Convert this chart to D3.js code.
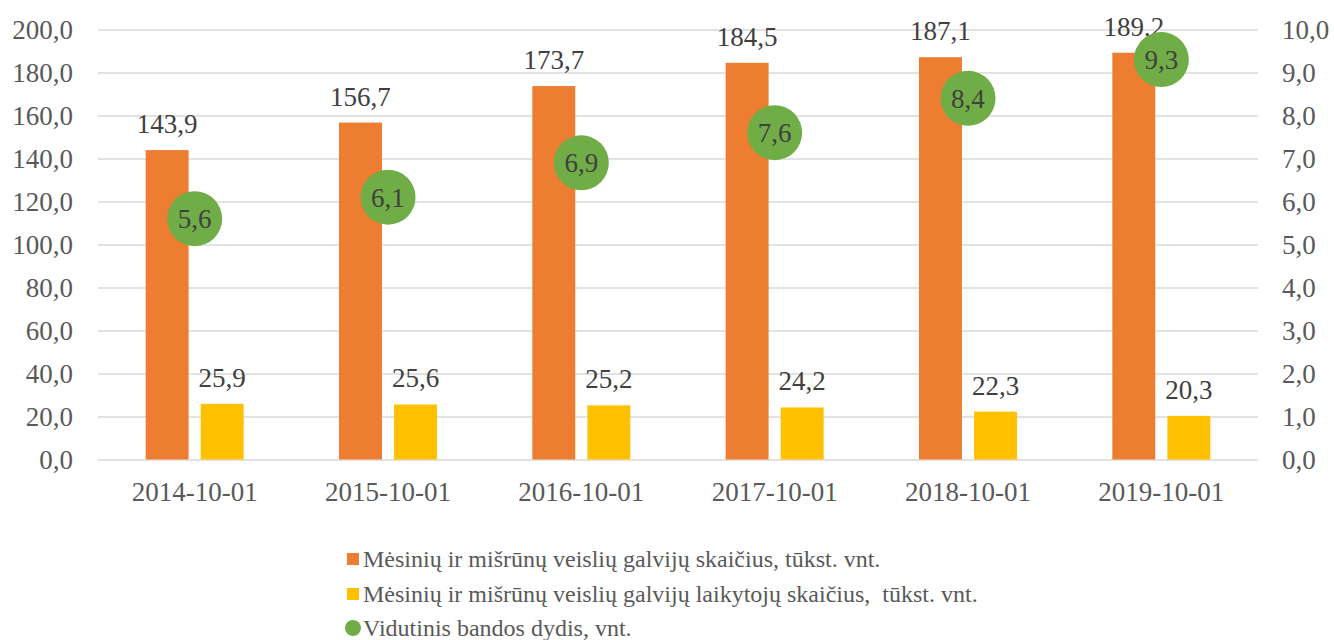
<!DOCTYPE html>
<html>
    <head>
        <meta charset="utf-8">
        <script src="https://d3js.org/d3.v7.min.js"></script>
        <style>
            svg text { font-family: "Liberation Serif", "Times New Roman", serif !important; }
        </style>
    </head>
    <body style="margin:0; background:#fff;">
        <script>
            const WIDTH = 1334;
            const HEIGHT = 640;

            const PLOT_LEFT = 98;
            const PLOT_RIGHT = 1258;
            const PLOT_TOP = 29.5;
            const PLOT_BOTTOM = 459.5;

            const FONT = 'Liberation Serif';
            const ORANGE = '#ED7D31';
            const YELLOW = '#FFC000';
            const GREEN = '#70AD47';
            const GRID_COLOR = '#d9d9d9';
            const AXIS_TEXT = '#595959';
            const LABEL_TEXT = '#404040';

            // data
            const dates = ['2014-10-01', '2015-10-01', '2016-10-01', '2017-10-01', '2018-10-01', '2019-10-01'];
            const cattle = [143.9, 156.7, 173.7, 184.5, 187.1, 189.2];
            const keepers = [25.9, 25.6, 25.2, 24.2, 22.3, 20.3];
            const herdSize = [5.6, 6.1, 6.9, 7.6, 8.4, 9.3];
            const leftTicks = [0, 20, 40, 60, 80, 100, 120, 140, 160, 180, 200];
            const rightTicks = [0, 1, 2, 3, 4, 5, 6, 7, 8, 9, 10];
            const legendNames = [
                'Mėsinių ir mišrūnų veislių galvijų skaičius, tūkst. vnt.',
                'Mėsinių ir mišrūnų veislių galvijų laikytojų skaičius,  tūkst. vnt.',
                'Vidutinis bandos dydis, vnt.'
            ];

            const fmt = function(v, d) { return v.toFixed(d).replace('.', ','); };

            let svg = d3.select('body')
                .append('svg')
                .attr('width', WIDTH)
                .attr('height', HEIGHT)
                .attr('font-family', FONT);

            let xScale = d3.scaleBand()
                .domain(dates)
                .range([PLOT_LEFT, PLOT_RIGHT]);
            let yLeft = d3.scaleLinear()
                .domain([0, 200])
                .range([PLOT_BOTTOM, PLOT_TOP]);
            let yRight = d3.scaleLinear()
                .domain([0, 10])
                .range([PLOT_BOTTOM, PLOT_TOP]);
            let inner = d3.scaleBand()
                .domain(['cattle', 'keepers'])
                .range([xScale.bandwidth() / 2 - 49, xScale.bandwidth() / 2 + 49])
                .paddingInner(0.22);

            function styleAxisText(g) {
                g.select('.domain').remove();
                g.attr('font-family', FONT).attr('font-size', 27);
                g.selectAll('text')
                    .attr('fill', AXIS_TEXT)
                    .attr('font-family', FONT)
                    .attr('font-size', 27);
            }

            // gridlines
            svg.append('g')
                .attr('transform', 'translate(' + PLOT_LEFT + ',0)')
                .call(d3.axisLeft(yLeft).tickValues(leftTicks).tickSize(-(PLOT_RIGHT - PLOT_LEFT)).tickFormat(''))
                .call(g => g.select('.domain').remove())
                .call(g => g.selectAll('line').attr('stroke', GRID_COLOR).attr('stroke-width', 1.3));

            // left axis
            svg.append('g')
                .attr('transform', 'translate(' + PLOT_LEFT + ',0)')
                .call(d3.axisLeft(yLeft).tickValues(leftTicks).tickSize(0).tickPadding(25)
                    .tickFormat(function(d) { return fmt(d, 1); }))
                .call(styleAxisText);

            // right axis
            svg.append('g')
                .attr('transform', 'translate(' + PLOT_RIGHT + ',0)')
                .call(d3.axisRight(yRight).tickValues(rightTicks).tickSize(0).tickPadding(24)
                    .tickFormat(function(d) { return fmt(d, 1); }))
                .call(styleAxisText);

            // x axis
            svg.append('g')
                .attr('transform', 'translate(0,' + PLOT_BOTTOM + ')')
                .call(d3.axisBottom(xScale).tickSize(0).tickPadding(22))
                .call(styleAxisText);

            let groups = svg.append('g')
                .selectAll('g')
                .data(dates)
                .enter()
                .append('g')
                .attr('transform', function(d) { return 'translate(' + xScale(d) + ',0)'; });

            // orange bars
            groups.append('rect')
                .attr('x', inner('cattle'))
                .attr('width', inner.bandwidth())
                .attr('y', function(d, i) { return yLeft(cattle[i]); })
                .attr('height', function(d, i) { return PLOT_BOTTOM - yLeft(cattle[i]); })
                .attr('fill', ORANGE);

            // yellow bars
            groups.append('rect')
                .attr('x', inner('keepers'))
                .attr('width', inner.bandwidth())
                .attr('y', function(d, i) { return yLeft(keepers[i]); })
                .attr('height', function(d, i) { return PLOT_BOTTOM - yLeft(keepers[i]); })
                .attr('fill', YELLOW);

            // bar labels
            groups.append('text')
                .attr('x', inner('cattle') + inner.bandwidth() / 2)
                .attr('y', function(d, i) { return yLeft(cattle[i]) - 17; })
                .attr('text-anchor', 'middle')
                .attr('fill', LABEL_TEXT)
                .attr('font-family', FONT)
                .attr('font-size', 27)
                .text(function(d, i) { return fmt(cattle[i], 1); });

            groups.append('text')
                .attr('x', inner('keepers') + inner.bandwidth() / 2)
                .attr('y', function(d, i) { return yLeft(keepers[i]) - 17; })
                .attr('text-anchor', 'middle')
                .attr('fill', LABEL_TEXT)
                .attr('font-family', FONT)
                .attr('font-size', 27)
                .text(function(d, i) { return fmt(keepers[i], 1); });

            // green markers on right axis
            groups.append('circle')
                .attr('cx', xScale.bandwidth() / 2)
                .attr('cy', function(d, i) { return yRight(herdSize[i]); })
                .attr('r', 27.5)
                .attr('fill', GREEN);

            groups.append('text')
                .attr('x', xScale.bandwidth() / 2)
                .attr('y', function(d, i) { return yRight(herdSize[i]); })
                .attr('dy', '0.35em')
                .attr('text-anchor', 'middle')
                .attr('fill', LABEL_TEXT)
                .attr('font-family', FONT)
                .attr('font-size', 27)
                .text(function(d, i) { return fmt(herdSize[i], 1); });

            // legend
            const LEGEND_X = 347;
            const LEGEND_Y = [559, 594, 628];
            let legend = svg.append('g');
            legendNames.forEach(function(name, i) {
                let row = legend.append('g')
                    .attr('transform', 'translate(' + LEGEND_X + ',' + LEGEND_Y[i] + ')');
                if (i < 2) {
                    row.append('rect')
                        .attr('x', 0).attr('y', -6)
                        .attr('width', 12).attr('height', 12)
                        .attr('fill', i == 0 ? ORANGE : YELLOW);
                } else {
                    row.append('circle')
                        .attr('cx', 6).attr('cy', 0).attr('r', 8)
                        .attr('fill', GREEN);
                }
                row.append('text')
                    .attr('x', 16)
                    .attr('y', 0)
                    .attr('dy', '0.35em')
                    .attr('fill', AXIS_TEXT)
                    .attr('font-family', FONT)
                    .attr('font-size', 24)
                    .style('white-space', 'pre')
                    .text(name);
            });
        </script>
    </body>
</html>
